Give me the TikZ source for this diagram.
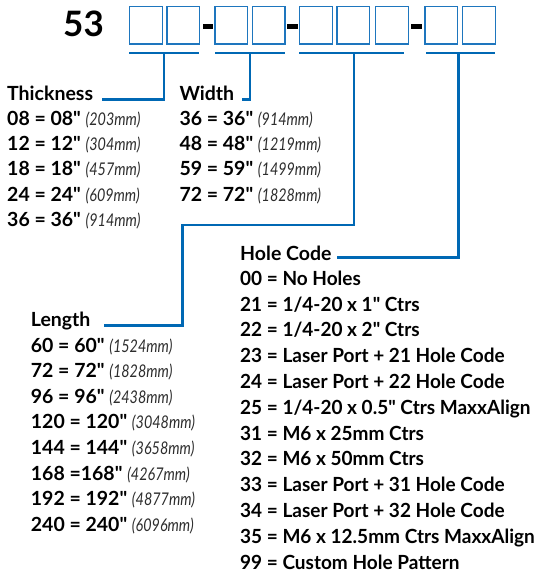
\documentclass[tikz,border=0pt]{standalone}
\usepackage{fontspec}
\setmainfont{Lato}[Ligatures=TeXOff]
\newfontfamily\mmfont{Lato}[FakeStretch=0.82,Ligatures=TeXOff]
\newfontfamily\holefont{Lato}[FakeStretch=0.975,Ligatures=TeXOff]
\definecolor{linkblue}{RGB}{0,104,180}
\definecolor{boxblue}{RGB}{30,118,190}
\definecolor{mmgray}{RGB}{45,45,45}
\newcommand{\qt}{\symbol{34}}
\newcommand{\mmtxt}[1]{{\mmfont\itshape\mdseries\color{mmgray}\fontsize{17.5}{18}\selectfont #1}}
\tikzset{
  lbl/.style={anchor=base west, inner sep=0pt, font=\fontsize{19.5}{20}\selectfont\bfseries},
  holelbl/.style={anchor=base west, inner sep=0pt, font=\holefont\fontsize{19.5}{20}\selectfont\bfseries},
  digitbox/.style={draw=boxblue, line width=1.4pt, anchor=north west, minimum width=32.5pt, minimum height=37.3pt, inner sep=0pt},
  conn/.style={draw=linkblue, line width=2.7pt, line join=miter, line cap=butt},
}
\begin{document}
\begin{tikzpicture}[x=1pt,y=-1pt]
\useasboundingbox (0,0) rectangle (541,574);
% title
\node[anchor=base west, inner sep=0pt, font=\fontsize{35}{36}\selectfont\bfseries] (num) at (63,36.7) {53};
% digit boxes
\node[digitbox] (d1) at (129,6) {};
\node[digitbox] (d2) at (166.3,6) {};
\node[digitbox] (d3) at (214.3,6) {};
\node[digitbox] (d4) at (251.7,6) {};
\node[digitbox] (d5) at (299,6) {};
\node[digitbox] (d6) at (336.3,6) {};
\node[digitbox] (d7) at (375,6) {};
\node[digitbox] (d8) at (424.3,6) {};
\node[digitbox] (d9) at (462,6) {};
% dashes
\fill[black] (203,24.2) rectangle (213.3,29.4);
\fill[black] (287.3,24.2) rectangle (298.3,29.4);
\fill[black] (411,24.2) rectangle (422,29.4);
% bars
\coordinate (b1l) at (129,53); \coordinate (b1r) at (199,53);
\coordinate (b2l) at (215,53); \coordinate (b2r) at (285,53);
\coordinate (b3l) at (299,53); \coordinate (b3r) at (404,53);
\coordinate (b4l) at (426,53); \coordinate (b4r) at (494.5,53);
\draw[conn] (b1l) -- (b1r);
\draw[conn] (b2l) -- (b2r);
\draw[conn] (b3l) -- (b3r);
\draw[conn] (b4l) -- (b4r);
% connector anchors
\coordinate (c1) at (164,53);
\coordinate (c2) at (250,53);
\coordinate (c3) at (354,53);
\coordinate (c4) at (458.3,53);
\coordinate (k1) at (102,99.8);
\coordinate (k2) at (241.5,99.8);
\coordinate (j3a) at (354,225);
\coordinate (j3b) at (182.7,225);
\coordinate (j3c) at (182.7,325.3);
\coordinate (k3) at (104.3,325.3);
\coordinate (k4) at (336.7,257.3);
\draw[conn] (c1) |- (k1);
\draw[conn] (c2) |- (k2);
\draw[conn] (c3) -- (j3a) -- (j3b) -- (j3c) -- (k3);
\draw[conn] (c4) |- (k4);
% Thickness
\node[lbl] (thk) at (7,100.5) {Thickness};
\node[lbl] (t1) at (7,125.7) {08 = 08\qt{} \mmtxt{(203mm)}};
\node[lbl] (t2) at (7,150.8) {12 = 12\qt{} \mmtxt{(304mm)}};
\node[lbl] (t3) at (7,175.9) {18 = 18\qt{} \mmtxt{(457mm)}};
\node[lbl] (t4) at (7,201) {24 = 24\qt{} \mmtxt{(609mm)}};
\node[lbl] (t5) at (7,226.1) {36 = 36\qt{} \mmtxt{(914mm)}};
% Width
\node[lbl] (wid) at (179.3,100.5) {Width};
\node[lbl] (w1) at (179.3,125.7) {36 = 36\qt{} \mmtxt{(914mm)}};
\node[lbl] (w2) at (179.3,150.8) {48 = 48\qt{} \mmtxt{(1219mm)}};
\node[lbl] (w3) at (179.3,175.9) {59 = 59\qt{} \mmtxt{(1499mm)}};
\node[lbl] (w4) at (179.3,201) {72 = 72\qt{} \mmtxt{(1828mm)}};
% Length
\node[lbl] (len) at (30.7,326.5) {Length};
\node[lbl] (l1) at (30.7,352) {60 = 60\qt{} \mmtxt{(1524mm)}};
\node[lbl] (l2) at (30.7,377.6) {72 = 72\qt{} \mmtxt{(1828mm)}};
\node[lbl] (l3) at (30.7,403.2) {96 = 96\qt{} \mmtxt{(2438mm)}};
\node[lbl] (l4) at (30.7,428.8) {120 = 120\qt{} \mmtxt{(3048mm)}};
\node[lbl] (l5) at (30.7,454.4) {144 = 144\qt{} \mmtxt{(3658mm)}};
\node[lbl] (l6) at (30.7,480) {168 =168\qt{} \mmtxt{(4267mm)}};
\node[lbl] (l7) at (30.7,505.6) {192 = 192\qt{} \mmtxt{(4877mm)}};
\node[lbl] (l8) at (30.7,531.2) {240 = 240\qt{} \mmtxt{(6096mm)}};
% Hole Code
\node[lbl] (hc) at (240,260) {Hole Code};
\node[holelbl] (h1) at (240,285.3) {00 = No Holes};
\node[holelbl] (h2) at (240,311.1) {21 = 1/4-20 x 1\qt{} Ctrs};
\node[holelbl] (h3) at (240,336.9) {22 = 1/4-20 x 2\qt{} Ctrs};
\node[holelbl] (h4) at (240,362.7) {23 = Laser Port + 21 Hole Code};
\node[holelbl] (h5) at (240,388.5) {24 = Laser Port + 22 Hole Code};
\node[holelbl] (h6) at (240,414.3) {25 = 1/4-20 x 0.5\qt{} Ctrs MaxxAlign};
\node[holelbl] (h7) at (240,440.1) {31 = M6 x 25mm Ctrs};
\node[holelbl] (h8) at (240,465.9) {32 = M6 x 50mm Ctrs};
\node[holelbl] (h9) at (240,491.7) {33 = Laser Port + 31 Hole Code};
\node[holelbl] (h10) at (240,517.5) {34 = Laser Port + 32 Hole Code};
\node[holelbl] (h11) at (240,543.3) {35 = M6 x 12.5mm Ctrs MaxxAlign};
\node[holelbl] (h12) at (240,569.1) {99 = Custom Hole Pattern};
\end{tikzpicture}
\end{document}
